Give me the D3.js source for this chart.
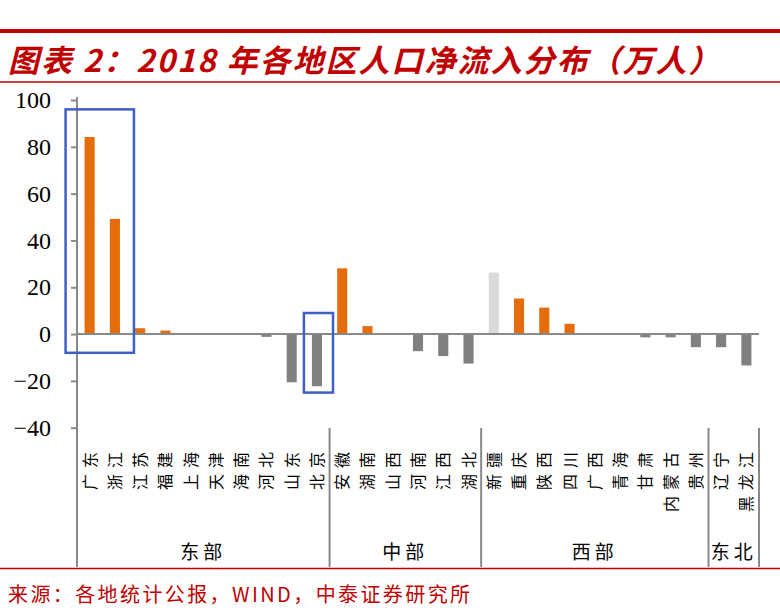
<!DOCTYPE html>
<html>
<head>
<meta charset="utf-8">
<script src="https://cdn.jsdelivr.net/npm/d3@7/dist/d3.min.js"></script>
<style>
	html, body { margin: 0; padding: 0; background: #fff; }
	svg { display: block; }
</style>
</head>
<body>
<div id="chart"></div>
<script>
'use strict';

// regions, left to right
var arrayRegions = ['广东','浙江','江苏','福建','上海','天津','海南','河北','山东','北京',
	'安徽','湖南','山西','河南','江西','湖北',
	'新疆','重庆','陕西','四川','广西','青海','甘肃','内蒙古','贵州',
	'辽宁','黑龙江'];

// net inflow 2018, 10k persons
var arrayInflow = [84.2, 49.2, 2.5, 1.5, 0.3, 0.3, 0.3, -1.2, -20.6, -22.3,
	28.1, 3.4, 0, -7.3, -9.4, -12.6,
	26.3, 15.2, 11.3, 4.4, 0.3, 0.3, -1.4, -1.4, -5.6,
	-5.6, -13.4];

// region groups: name, number of regions
var arrayGroups = [['东部',10],['中部',6],['西部',9],['东北',2]];

var arrayTicks = [100, 80, 60, 40, 20, 0, -20, -40];

// highlighted boxes: first region, last region, top value, bottom value
var arrayBoxes = [['广东','浙江',96,-8],['北京','北京',9,-25]];

var strTitle = '图表 2：2018 年各地区人口净流入分布（万人）';
var strSource = '来源：各地统计公报，WIND，中泰证券研究所';

var strRed = '#C00000';
var strOrange = '#E46C0A';
var strGray = '#808080';
var strLight = '#D9D9D9';
var strAxis = '#898989';
var strBlue = '#3F5FC8';
var strCJK = '"Noto Sans CJK SC", sans-serif';

var svg = d3.select('#chart').append('svg')
	.attr('width', 780)
	.attr('height', 612);

// header lines
svg.append('rect').attr('x', 0).attr('y', 29).attr('width', 780).attr('height', 4).attr('fill', strRed);
svg.append('line').attr('x1', 0).attr('x2', 780).attr('y1', 82).attr('y2', 82)
	.attr('stroke', strRed).attr('stroke-width', 1.5);

svg.append('text')
	.attr('x', 8).attr('y', 72)
	.attr('fill', strRed)
	.style('font-family', strCJK)
	.style('font-size', '31px')
	.style('font-weight', 'bold')
	.style('font-style', 'italic')
	.style('letter-spacing', '2px')
	.text(strTitle);

var x = d3.scaleBand()
	.domain(arrayRegions)
	.range([77, 759])
	.paddingInner(0.6)
	.paddingOuter(0.3);

var y = d3.scaleLinear()
	.domain([-40, 100])
	.range([427.7, 100]);

var fStep = x.step();
function EdgeLeft(strName) { return x(strName) - fStep * 0.3; }

// y axis
var gAxis = svg.append('g')
	.attr('transform', 'translate(77,0)')
	.call(d3.axisLeft(y).tickValues(arrayTicks).tickSize(6).tickPadding(20).tickFormat(d3.format('d')));
gAxis.select('.domain').remove();
gAxis.selectAll('.tick line').attr('stroke', strAxis).attr('stroke-width', 2);
gAxis.selectAll('.tick text')
	.attr('fill', '#000')
	.style('font-family', '"Liberation Serif", serif')
	.style('font-size', '24px');

svg.append('line')
	.attr('x1', 77).attr('x2', 77)
	.attr('y1', y(100) - 3).attr('y2', 567)
	.attr('stroke', strAxis).attr('stroke-width', 2);

// bars
svg.append('g').selectAll('rect')
	.data(arrayRegions)
	.join('rect')
		.attr('x', function(d) { return x(d); })
		.attr('width', x.bandwidth())
		.attr('y', function(d, i) { return y(Math.max(0, arrayInflow[i])); })
		.attr('height', function(d, i) { return Math.abs(y(arrayInflow[i]) - y(0)); })
		.attr('fill', function(d, i)
		{
			if (d == '新疆') return strLight;
			return arrayInflow[i] >= 0 ? strOrange : strGray;
		});

// zero line
svg.append('line')
	.attr('x1', 77).attr('x2', x.range()[1])
	.attr('y1', y(0)).attr('y2', y(0))
	.attr('stroke', strAxis).attr('stroke-width', 2);

// region labels, rotated
svg.append('g').selectAll('text')
	.data(arrayRegions)
	.join('text')
		.attr('transform', function(d) { return 'translate(' + (x(d) + x.bandwidth() / 2 + 6) + ',446) rotate(-90)'; })
		.attr('text-anchor', 'end')
		.attr('fill', '#000')
		.style('font-family', strCJK)
		.style('font-size', '16px')
		.style('letter-spacing', '6px')
		.text(function(d) { return d; });

// group separators and names
var nStart = 0;
arrayGroups.forEach(function(arrayGroup)
{
	var strFirst = arrayRegions[nStart];
	var strLast = arrayRegions[nStart + arrayGroup[1] - 1];
	var fLeft = EdgeLeft(strFirst);
	var fRight = EdgeLeft(strLast) + fStep;
	svg.append('line')
		.attr('x1', fRight).attr('x2', fRight)
		.attr('y1', 428).attr('y2', 567)
		.attr('stroke', strAxis).attr('stroke-width', 2);
	svg.append('text')
		.attr('x', (fLeft + fRight) / 2)
		.attr('y', 559)
		.attr('text-anchor', 'middle')
		.attr('fill', '#000')
		.style('font-family', strCJK)
		.style('font-size', '19px')
		.style('letter-spacing', '4px')
		.text(arrayGroup[0]);
	nStart += arrayGroup[1];
});

// blue boxes
arrayBoxes.forEach(function(arrayBox, i)
{
	var fLeft = x(arrayBox[0]) - (i == 0 ? 19 : 8);
	var fRight = x(arrayBox[1]) + x.bandwidth() + (i == 0 ? 14 : 11);
	svg.append('rect')
		.attr('x', fLeft)
		.attr('y', y(arrayBox[2]))
		.attr('width', fRight - fLeft)
		.attr('height', y(arrayBox[3]) - y(arrayBox[2]))
		.attr('fill', 'none')
		.attr('stroke', strBlue)
		.attr('stroke-width', 2.5);
});

// footer
svg.append('line').attr('x1', 0).attr('x2', 780).attr('y1', 568.5).attr('y2', 568.5)
	.attr('stroke', strRed).attr('stroke-width', 1.5);

svg.append('text')
	.attr('x', 8).attr('y', 602)
	.attr('fill', strRed)
	.style('font-family', strCJK)
	.style('font-size', '20px')
	.style('letter-spacing', '2.4px')
	.text(strSource);
</script>
</body>
</html>
